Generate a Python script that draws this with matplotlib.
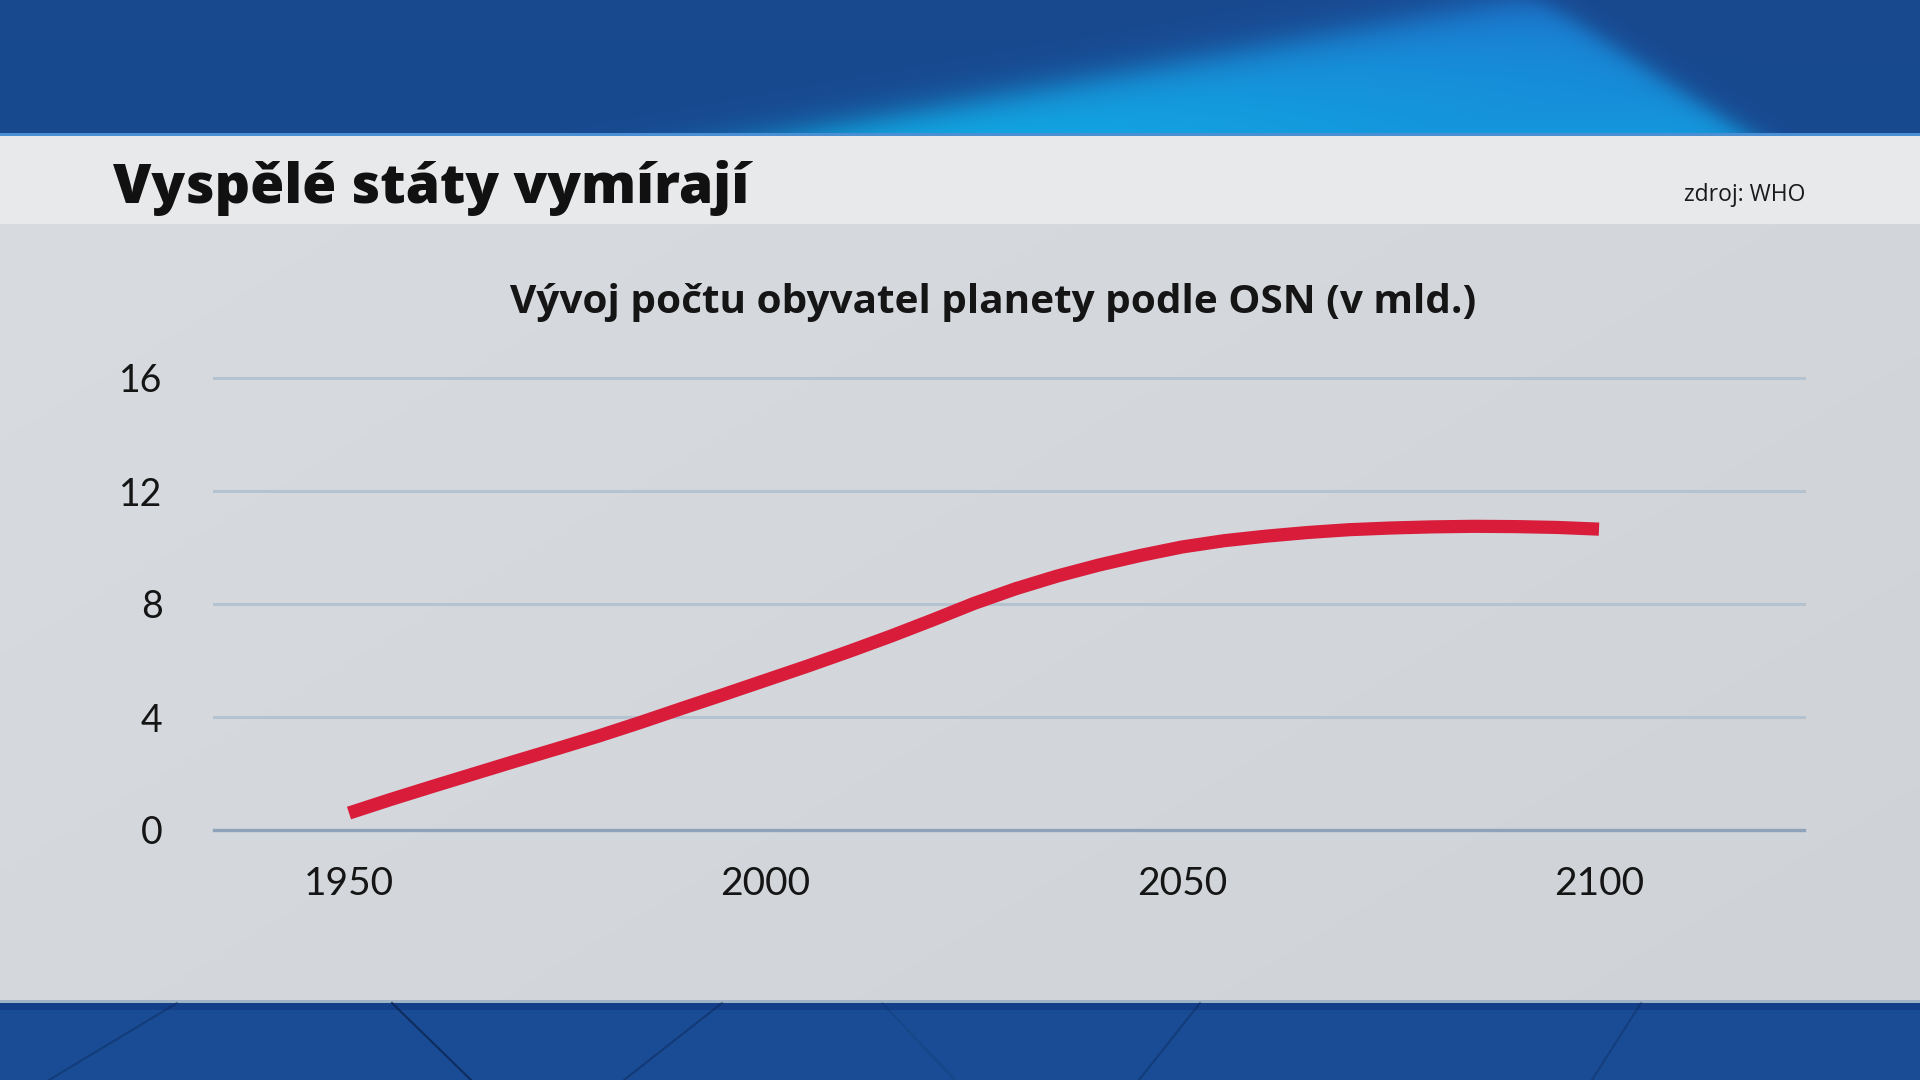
import numpy as np
import matplotlib
matplotlib.use("Agg")
import matplotlib.pyplot as plt

# ---- data ----
years = [1950, 1955, 1960, 1965, 1970, 1975, 1980, 1985, 1990, 1995, 2000,
         2005, 2010, 2015, 2020, 2025, 2030, 2035, 2040, 2045, 2050,
         2055, 2060, 2065, 2070, 2075, 2080, 2085, 2090, 2095, 2100]
population = [0.60, 1.08, 1.54, 1.99, 2.44, 2.88, 3.33, 3.81, 4.31, 4.80, 5.30,
              5.80, 6.32, 6.86, 7.43, 8.02, 8.54, 8.99, 9.38, 9.72, 10.02,
              10.24, 10.40, 10.53, 10.63, 10.69, 10.73, 10.75, 10.74, 10.71, 10.65]
x_ticks = [1950, 2000, 2050, 2100]
x_tick_labels = ["1950", "2000", "2050", "2100"]
y_ticks = [0, 4, 8, 12, 16]
y_tick_labels = ["0", "4", "8", "12", "16"]
title = "Vyspělé státy vymírají"
subtitle = "Vývoj počtu obyvatel planety podle OSN (v mld.)"
source = "zdroj: WHO"

W, H = 1920, 1080
fig = plt.figure(figsize=(W / 100, H / 100), dpi=100)

# ---- background image (decorative bands) ----
def hex2rgb(h):
    h = h.lstrip('#')
    return np.array([int(h[i:i + 2], 16) / 255 for i in (0, 2, 4)])

img = np.zeros((H, W, 3))
yy, xx = np.mgrid[0:H, 0:W].astype(float)

top_h = 136
base = hex2rgb('#18498f')
img[:top_h] = base
ys = yy[:top_h]; xs = xx[:top_h]
t = (top_h - ys) / top_h
xL = 784 + (1506 - 784) * t
xR = 1751 + (1543 - 1751) * t
sig = lambda z: 1 / (1 + np.exp(-z))
w = sig((xs - xL) / 55) * sig((xR - xs) / 12)
inner_bot = hex2rgb('#10aee6')
inner_top = hex2rgb('#1c78d0')
inner = inner_bot[None, None, :] * (1 - t[..., None]) + inner_top[None, None, :] * t[..., None]
fade = np.clip((xs - xL) / 600, 0, 1)[..., None]
inner = inner * (1 - 0.35 * fade) + hex2rgb('#1b70cc') * 0.35 * fade
img[:top_h] = base * (1 - w[..., None]) + inner * w[..., None]
img[top_h - 3:top_h] = hex2rgb('#4a8fd2')

img[top_h:224] = hex2rgb('#e8e9eb')

panel = slice(224, 1000)
gx = xx[panel] / W
gy = (yy[panel] - 224) / 776
c1 = hex2rgb('#d8dbe0'); c2 = hex2rgb('#cfd3d8')
mixw = np.clip(0.6 * gx + 0.4 * gy, 0, 1)[..., None]
img[panel] = c1 * (1 - mixw) + c2 * mixw

img[1000:1003] = hex2rgb('#9fb2c6')
img[1003:1010] = hex2rgb('#123f88')
img[1010:] = hex2rgb('#194c94')

bg = fig.add_axes([0, 0, 1, 1], zorder=0)
bg.imshow(img, extent=[0, W, H, 0], aspect='auto', interpolation='bilinear')
bg.set_xlim(0, W); bg.set_ylim(H, 0)
bg.axis('off')
for (x0, y0, x1, y1, a) in [(177, 1003, 49, 1080, 0.35), (392, 1003, 471, 1080, 0.7),
                             (722, 1003, 624, 1080, 0.4), (882, 1003, 955, 1080, 0.15),
                             (1200, 1003, 1139, 1080, 0.35), (1641, 1003, 1592, 1080, 0.3)]:
    bg.plot([x0, x1], [y0, y1], color='#0a1f4a', lw=1.5, alpha=a)

# ---- texts (fitted to the reference widths) ----
renderer = fig.canvas.get_renderer()

def fitted_text(x, y, s, target_w, size, **kw):
    txt = fig.text(x / W, 1 - y / H, s, fontsize=size, **kw)
    wpx = txt.get_window_extent(renderer=renderer).width
    txt.set_fontsize(size * target_w / wpx)
    return txt

fitted_text(113, 203, title, 637, 42, fontweight=800, family=['Open Sans', 'DejaVu Sans'],
            color='#111111', ha='left', va='baseline')
fitted_text(1805, 201, source, 121, 15, family=['Open Sans', 'DejaVu Sans'],
            color='#1a1a1a', ha='right', va='baseline')
fitted_text(993, 313, subtitle, 965, 27, fontweight='bold', family=['Open Sans', 'DejaVu Sans'],
            color='#151515', ha='center', va='baseline')

# ---- main chart ----
ax = fig.add_axes([214 / W, (H - 830) / H, (1804 - 214) / W, (830 - 378) / H], zorder=2)
ax.patch.set_alpha(0)
ax.set_xlim(1933.8, 2124.6)
ax.set_ylim(0, 16)
for s in ax.spines.values():
    s.set_visible(False)
for v in y_ticks[1:]:
    ax.axhline(v, color='#b5c2d0', lw=2.2, zorder=1, clip_on=False)
ax.axhline(0, color='#8ea3ba', lw=2.4, zorder=1, clip_on=False)

ax.plot(years, population, color='#d81c3a', lw=9.5, solid_capstyle='butt',
        solid_joinstyle='round', zorder=3)

ax.set_yticks(y_ticks)
ax.set_yticklabels(y_tick_labels, fontsize=27, family=['Lato', 'DejaVu Sans'], color='#151515')
ax.set_xticks(x_ticks)
ax.set_xticklabels(x_tick_labels, fontsize=28, family=['Lato', 'DejaVu Sans'], color='#151515')
ax.tick_params(axis='y', length=0, pad=37)
ax.tick_params(axis='x', length=0, pad=26)

fig.savefig('out.png', dpi=100)
